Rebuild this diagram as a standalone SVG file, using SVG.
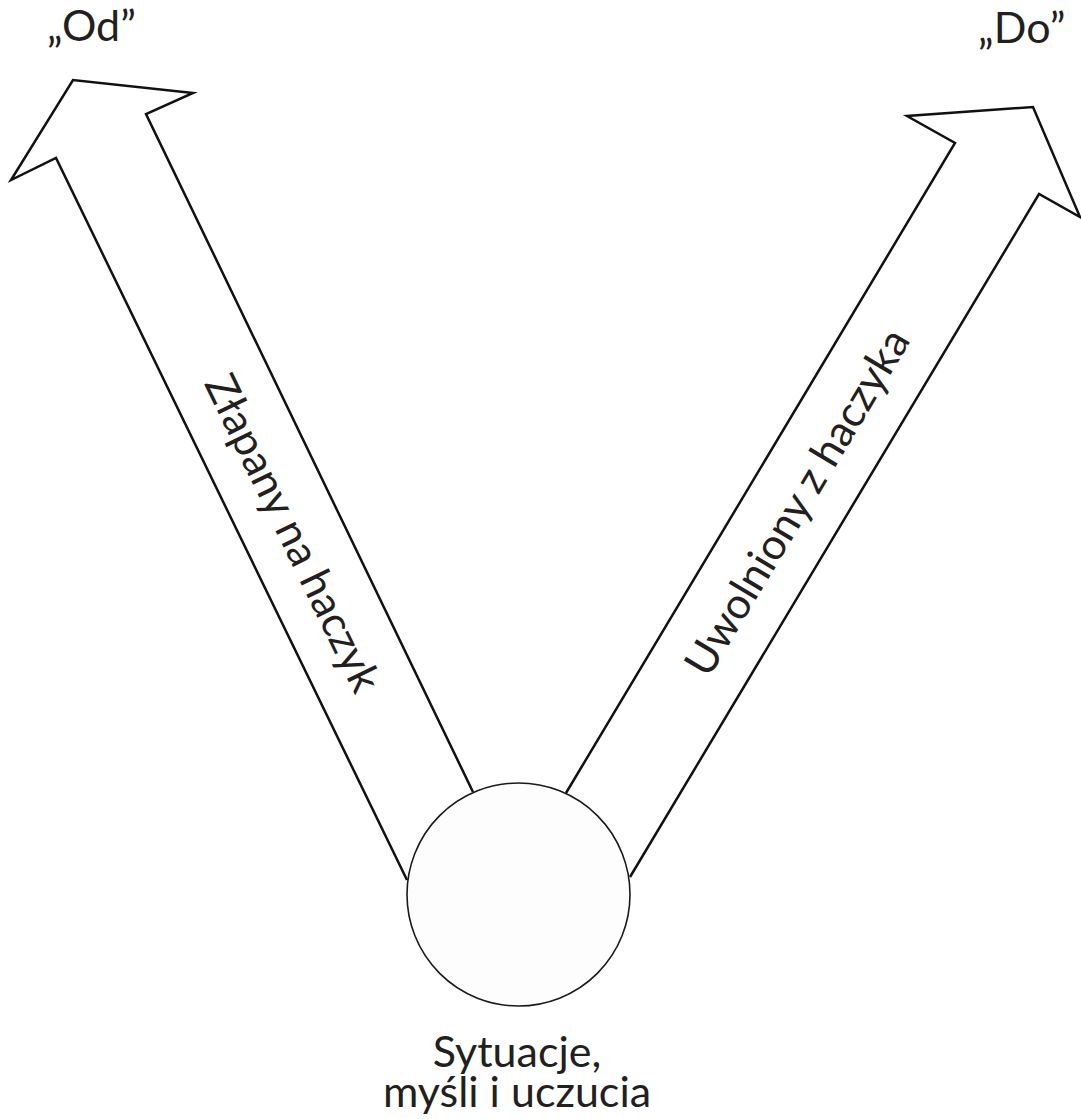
<svg xmlns="http://www.w3.org/2000/svg" width="1081" height="1119" viewBox="0 0 1081 1119">
  <style>
    .lbl { font-family: "Lato", "Liberation Sans", sans-serif; font-size: 43px; fill: #231f20; }
    .arrow { fill: #ffffff; stroke: #111111; stroke-width: 2.5; stroke-linejoin: miter; }
    .hub { fill: #fdfdfd; stroke: #1a1a1a; stroke-width: 1.6; }
  </style>
  <rect width="1081" height="1119" fill="#ffffff"/>

  <g id="connectors">
    <!-- left arrow: "caught on the hook" -->
    <path id="arrow-left" class="arrow" d="M407,880 L56,158 L11,180 L73,80 L193,93 L146,114 L473,792"/>
    <!-- right arrow: "released from the hook" -->
    <path id="arrow-right" class="arrow" d="M566,793 L955,143 L907,116 L1033,107 L1080,217 L1039,194 L630,877"/>
    <text class="lbl" transform="translate(293,533) rotate(64.1)" x="0" y="15" text-anchor="middle">Złapany na haczyk</text>
    <text class="lbl" transform="translate(797,502) rotate(-59.1)" x="0" y="15" text-anchor="middle">Uwolniony z haczyka</text>
  </g>

  <g id="node-from">
    <text class="lbl" x="47" y="41">„Od”</text>
  </g>

  <g id="node-to">
    <text class="lbl" x="978" y="43">„Do”</text>
  </g>

  <g id="node-situations">
    <circle class="hub" cx="518.5" cy="894.5" r="111.5"/>
    <text class="lbl" x="517" y="1067" text-anchor="middle">Sytuacje,</text>
    <text class="lbl" x="517" y="1107" text-anchor="middle">myśli i uczucia</text>
  </g>
</svg>
